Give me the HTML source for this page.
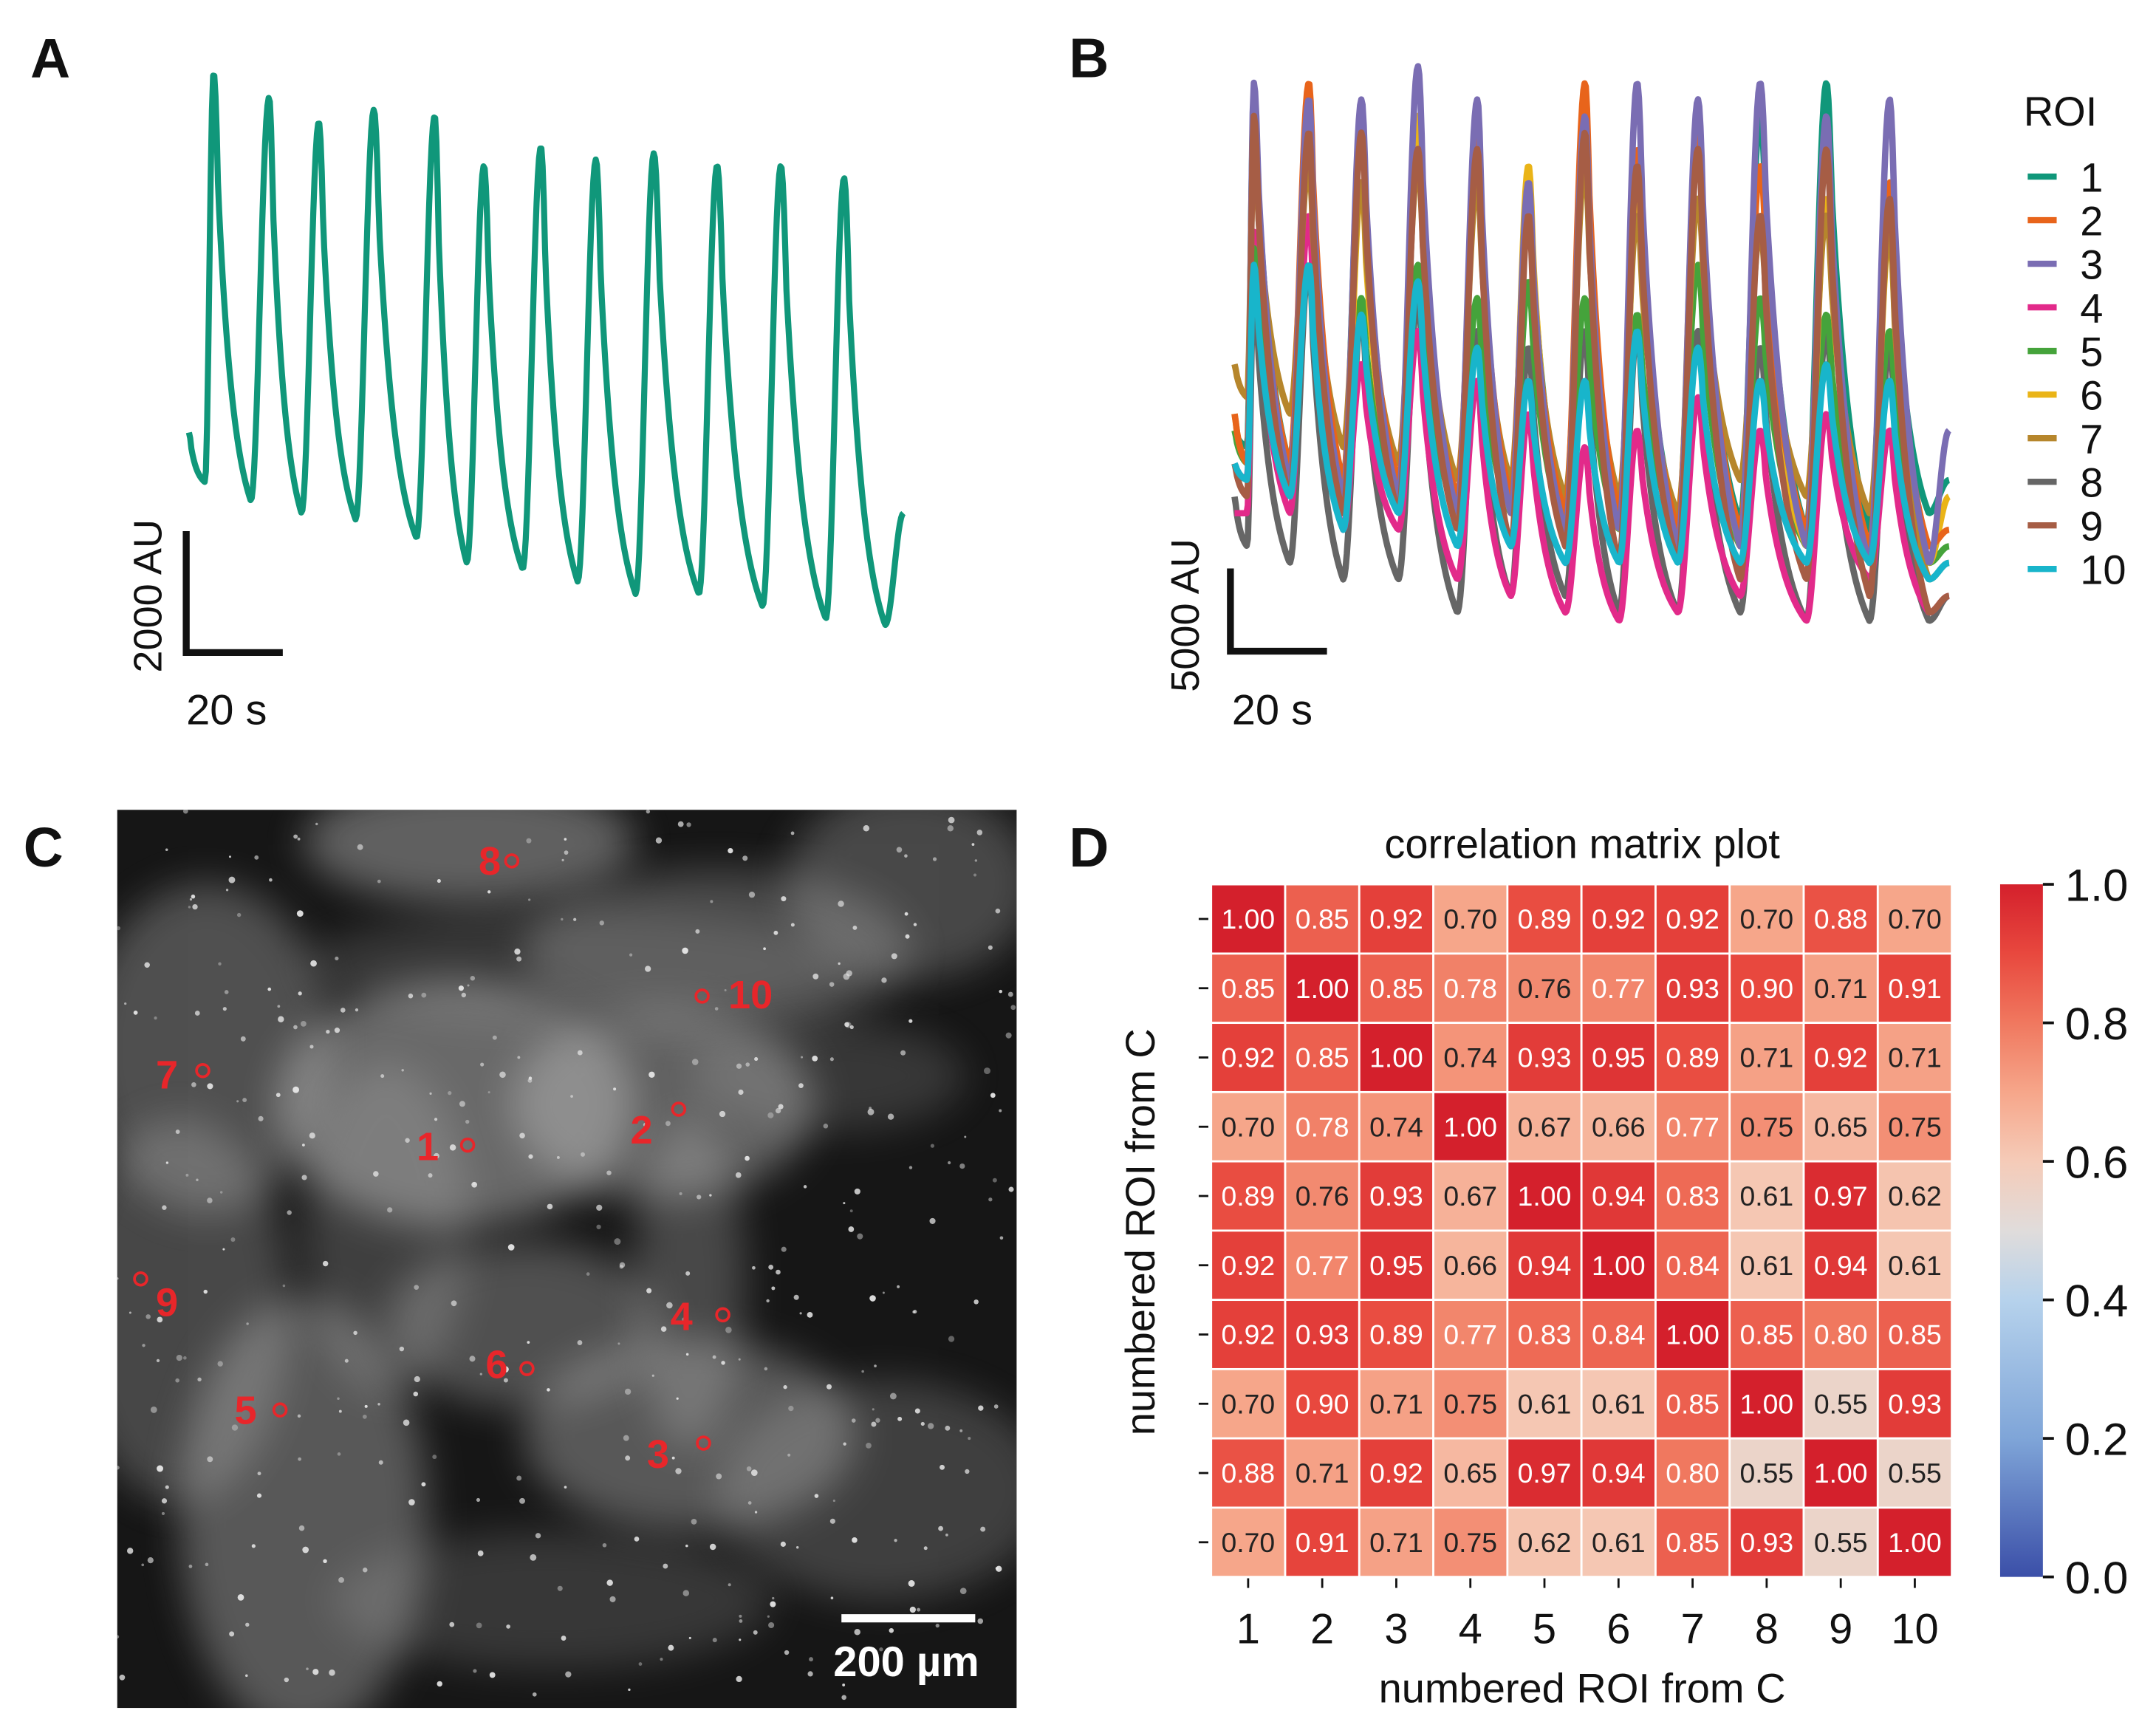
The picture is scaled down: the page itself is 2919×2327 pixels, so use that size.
<!DOCTYPE html>
<html><head><meta charset="utf-8"><style>
html,body{margin:0;padding:0;background:#fff}
svg{display:block}
text{font-family:"Liberation Sans",sans-serif}
</style></head><body>
<svg id="fig" width="2919" height="2327" viewBox="0 0 1563 1246" preserveAspectRatio="none" xmlns="http://www.w3.org/2000/svg">
<defs>
<filter id="blur8" x="-50%" y="-50%" width="200%" height="200%"><feGaussianBlur stdDeviation="14"/></filter>
<linearGradient id="cbar" x1="0" y1="1" x2="0" y2="0">
<stop offset="0" stop-color="#3b4fa8"/><stop offset="0.2" stop-color="#7fa5d8"/><stop offset="0.4" stop-color="#b6d2ec"/><stop offset="0.5" stop-color="#e0dcdb"/><stop offset="0.6" stop-color="#f5cbb8"/><stop offset="0.7" stop-color="#f6a68a"/><stop offset="0.8" stop-color="#f0785f"/><stop offset="0.9" stop-color="#e8483e"/><stop offset="1" stop-color="#d4202c"/>
</linearGradient>
</defs>
<g font-weight="bold" font-size="40" fill="#111">
<text x="22" y="56">A</text>
<text x="775" y="56">B</text>
<text x="17" y="628">C</text>
<text x="775" y="628">D</text>
</g>
<g id="panelA"></g>
<g id="scaleA">
<path d="M135 385 V473 H205" stroke="#111" stroke-width="5" fill="none"/>
<text transform="translate(117,432) rotate(-90)" text-anchor="middle" font-size="29" fill="#111">2000 AU</text>
<text x="135" y="525" font-size="31" fill="#111">20 s</text>
</g>
<g id="panelB"></g>
<g id="scaleB">
<path d="M892 412 V472 H962" stroke="#111" stroke-width="5" fill="none"/>
<text transform="translate(869,446) rotate(-90)" text-anchor="middle" font-size="29" fill="#111">5000 AU</text>
<text x="893" y="525" font-size="31" fill="#111">20 s</text>
</g>
<g id="legend">
<text x="1467" y="91" font-size="30" fill="#111">ROI</text>
</g>
<g id="panelC"></g>
<g id="panelD"></g>
</svg>
<script>
const NS='http://www.w3.org/2000/svg';
const colors=['#10977a','#e8641b','#7a6db3','#e22a8a','#45a33b','#eab417','#b6862c','#666666','#a65d45','#18b5cb'];
// Panel A data (time in s, values in thousand AU)
const peakTimesA=[5.1,16.6,26.9,38.3,50.9,61.1,72.9,84.3,96.3,109.4,122.6,135.7];
const peaksA=[9.5,9.1,8.7,8.9,8.8,8.0,8.3,8.1,8.2,8.0,8.0,7.8];
const troughsA=[2.9,2.6,2.4,2.3,2.0,1.6,1.5,1.3,1.1,1.1,0.9,0.7];
const startA=3.7, endTroughA=0.6, endA=2.4, tEndA=148;
// Panel B data
const peakTimesB=[4,15.4,26.3,38,50.3,60.9,72.6,83.4,96,108.9,122.6,135.7];
const peaksB=[
[34,33,33,31,31,29,31,30,31,33,35,28],
[33,35,32,31,32,28,35,31,32,30,31,29],
[35,34,34,36,34,29,33,35,34,35,33,34],
[26,27,18,20,17,15,13,14,16,14,15,14],
[25,24,22,24,22,23,22,21,24,22,21,20],
[33,32,29,33,32,30,32,28,33,27,28,26],
[31,30,29,30,29,27,30,27,28,26,27,26],
[23,24,21,22,20,19,20,20,20,19,20,19],
[33,32,32,31,31,27,32,30,31,27,31,28],
[24,24,21,23,19,17,17,20,19,17,18,17]];
const troughsB=[
[13,12,11,10,10,9.5,9,9,8.5,8.5,8,8],
[12,12,11,11,10,10,9,9,8,8,8,7],
[11,11,10,10,9,9,8,8,7,7,7,6],
[9,9,8,8,5,4,3,2.5,3,4,2.5,5],
[12,11,10,10,9,9,8,8,8,7,7,7],
[12,11,10,10,9,9,8,8,8,7,7,7],
[16,15,13,12,11,11,10,10,9,11,10,9],
[7,6,5,5,3,4,4,3,3,3,2.5,2.5],
[10,10,9,9,8,7,7,6,6,5,5,4],
[11,10,8,9,7,7,6,6,6,6,6,6]];
const startsB=[14,15,12,9,14,15,18,10,12,12];
const endTroughsB=[9,7,6,3,6,6,5,2.5,3,5];
const endsB=[11,8,14,4,7,10,6,4,4,6];
const tEndB=148;
const roiLabels=['1','2','3','4','5','6','7','8','9','10'];
// Correlation matrix
const corr=[
[1.00,0.85,0.92,0.70,0.89,0.92,0.92,0.70,0.88,0.70],
[0.85,1.00,0.85,0.78,0.76,0.77,0.93,0.90,0.71,0.91],
[0.92,0.85,1.00,0.74,0.93,0.95,0.89,0.71,0.92,0.71],
[0.70,0.78,0.74,1.00,0.67,0.66,0.77,0.75,0.65,0.75],
[0.89,0.76,0.93,0.67,1.00,0.94,0.83,0.61,0.97,0.62],
[0.92,0.77,0.95,0.66,0.94,1.00,0.84,0.61,0.94,0.61],
[0.92,0.93,0.89,0.77,0.83,0.84,1.00,0.85,0.80,0.85],
[0.70,0.90,0.71,0.75,0.61,0.61,0.85,1.00,0.55,0.93],
[0.88,0.71,0.92,0.65,0.97,0.94,0.80,0.55,1.00,0.55],
[0.70,0.91,0.71,0.75,0.62,0.61,0.85,0.93,0.55,1.00]];
const cbTicks=['0.0','0.2','0.4','0.6','0.8','1.0'];

function el(tag,attrs,parent){const e=document.createElementNS(NS,tag);for(const k in attrs)e.setAttribute(k,attrs[k]);parent.appendChild(e);return e;}

function traceValue(t,times,peaks,troughs,start,endTrough,end,tEnd,riseMax,k){
  const P=[[0,start]].concat(times.map((x,i)=>[x,peaks[i]]));
  const Tr=troughs.concat([endTrough]);
  const N=[...times.map((x,i)=>[x,peaks[i]]),[tEnd,end]];
  for(let i=0;i<N.length;i++){
    const t0=P[i][0],v0=P[i][1],t1=N[i][0],v1=N[i][1],tr=Tr[i];
    if(t<=t1||i===N.length-1){
      const gap=t1-t0, riseDur=Math.min(riseMax,gap*0.35);
      const tm=t1-riseDur;
      if(t<tm){
        let s=(t-t0)/(tm-t0);
        // rounded top: quadratic onset blended into exponential decay
        const f=(Math.exp(-k*s)-Math.exp(-k))/(1-Math.exp(-k));
        const g=1-s*s; const w=Math.min(1,s/0.12);
        const ff=(1-w)*Math.max(g,f)+w*f;
        return tr+(v0-tr)*ff;
      }
      const s=Math.min(1,(t-tm)/riseDur);return tr+(v1-tr)*(0.5-0.5*Math.cos(Math.PI*s));
    }
  }
  return end;
}
function buildPath(xs,ys,times,peaks,troughs,start,endTrough,end,tEnd,riseMax,k){
  let d='';for(let t=0;t<=tEnd;t+=0.25){const v=traceValue(t,times,peaks,troughs,start,endTrough,end,tEnd,riseMax,k);d+=(d?'L':'M')+xs(t).toFixed(2)+' '+ys(v).toFixed(2);}return d;
}
// Panel A
const xA=t=>137+t*3.5, yA=v=>480-v*45;
const pa=el('path',{d:buildPath(xA,yA,peakTimesA,peaksA,troughsA,startA,endTroughA,endA,tEndA,3.8,2.3),fill:'none',stroke:'#10977a','stroke-width':4.4,'stroke-linejoin':'round'},document.getElementById('panelA'));


// Panel B
const xB=t=>895+t*3.5, yB=v=>480-v*12;
const gB=document.getElementById('panelB');
[7,3,0,4,5,6,1,2,8,9].forEach(i=>{
  const p=el('path',{d:buildPath(xB,yB,peakTimesB,peaksB[i],troughsB[i],startsB[i],endTroughsB[i],endsB[i],tEndB,4.2,2.0),fill:'none',stroke:colors[i],'stroke-width':4.6,'stroke-linejoin':'round'},gB);
  
  
});
// Legend
const lg=document.getElementById('legend');
roiLabels.forEach((r,i)=>{
  const y=128+i*31.6;
  const l=el('line',{x1:1470,x2:1491,y1:y,y2:y,stroke:colors[i],'stroke-width':4.5},lg);
  
  
  const tx=el('text',{x:1508,y:y+11,'font-size':30,fill:'#111'},lg);tx.textContent=r;
  
  
});
// Panel C microscopy
const gC=document.getElementById('panelC');
el('rect',{x:85,y:587,width:652,height:651,fill:'#161616'},gC);
const cp=el('clipPath',{id:'cclip'},document.querySelector('defs'));el('rect',{x:85,y:587,width:652,height:651},cp);
const cl=el('g',{'clip-path':'url(#cclip)'},gC);
const blobs=[[340,610,120,45,0.45],[520,690,140,60,0.3],[330,800,130,90,0.5],[480,800,110,70,0.45],[150,760,90,120,0.35],[130,950,80,140,0.3],[220,1100,90,160,0.4],[380,960,100,60,0.35],[500,1040,120,70,0.4],[500,930,40,120,0.3],[660,640,90,70,0.3],[640,1080,120,80,0.25],[420,700,200,40,0.2],[280,890,60,120,0.25],[600,780,100,40,0.2],[400,1160,160,50,0.2]];
blobs.forEach(b=>el('ellipse',{cx:b[0],cy:b[1],rx:b[2],ry:b[3],fill:'#bbbbbb',opacity:b[4],filter:'url(#blur8)'},cl));
let seed=7;function rnd(){seed=(seed*16807)%2147483647;return seed/2147483647;}
for(let i=0;i<420;i++){const x=85+rnd()*652,y=587+rnd()*651;el('circle',{cx:x,cy:y,r:0.8+rnd()*1.6,fill:'#e8e8e8',opacity:0.35+rnd()*0.6},cl);}
const rois=[['8',347,634,371,624],['10',528,731,509,722],['7',113,789,147,776],['2',457,829,492,804],['1',302,841,339,830],['9',113,954,102,927],['4',486,964,524,953],['6',352,999,382,992],['5',170,1032,203,1022],['3',469,1064,510,1046]];
rois.forEach(r=>{
  const c=el('circle',{cx:r[3],cy:r[4],r:4.5,fill:'none',stroke:'#e8262a','stroke-width':2},gC);
  
  
  const t=el('text',{x:r[1],y:r[2],'font-size':29,'font-weight':'bold',fill:'#e8262a'},gC);t.textContent=r[0];
  
  
});
const sb=el('line',{x1:610,x2:707,y1:1173,y2:1173,stroke:'#fff','stroke-width':6},gC);


const sbt=el('text',{x:657,y:1215,'font-size':31,'font-weight':'bold',fill:'#fff','text-anchor':'middle'},gC);sbt.textContent='200 µm';


// Panel D heatmap
const gD=document.getElementById('panelD');
const stops=[[0,[59,79,168]],[0.2,[127,165,216]],[0.4,[182,210,236]],[0.5,[224,220,219]],[0.6,[245,203,184]],[0.7,[246,166,138]],[0.8,[240,120,95]],[0.9,[232,72,62]],[1,[212,32,44]]];
function cmap(v){for(let i=1;i<stops.length;i++){if(v<=stops[i][0]){const a=stops[i-1],b=stops[i],f=(v-a[0])/(b[0]-a[0]);return 'rgb('+a[1].map((c,k)=>Math.round(c+(b[1][k]-c)*f)).join(',')+')';}}return 'rgb(212,32,44)';}
const hx0=878,hy0=641,cw=53.7,ch=50.2;
const cx=j=>hx0+j*cw, cy=i=>hy0+i*ch;
const title=el('text',{x:1147,y:622,'font-size':30,'text-anchor':'middle',fill:'#111'},gD);title.textContent='correlation matrix plot';


corr.forEach((row,i)=>row.forEach((v,j)=>{
  const r=el('rect',{x:cx(j),y:cy(i),width:cw,height:ch,fill:cmap(v),stroke:'#fff','stroke-width':1.5},gD);
  
  
  const t=el('text',{x:cx(j)+cw/2,y:cy(i)+ch/2+7,'font-size':20,'text-anchor':'middle',fill:v>=0.77?'#fff':'#222','font-family':'DejaVu Sans, sans-serif'},gD);t.textContent=v.toFixed(2);
  
  
}));
roiLabels.forEach((r,k)=>{
  el('line',{x1:cx(k)+cw/2,x2:cx(k)+cw/2,y1:1144,y2:1151,stroke:'#111','stroke-width':1.5},gD);
  const t=el('text',{x:cx(k)+cw/2,y:1191,'font-size':31,'text-anchor':'middle',fill:'#111'},gD);t.textContent=r;
  
  
  el('line',{x1:869,x2:876,y1:cy(k)+ch/2,y2:cy(k)+ch/2,stroke:'#111','stroke-width':1.5},gD);
});
const xl=el('text',{x:1147,y:1234,'font-size':30,'text-anchor':'middle',fill:'#111'},gD);xl.textContent='numbered ROI from C';


const yl=el('text',{transform:'translate(837,893) rotate(-90)','font-size':30,'text-anchor':'middle',fill:'#111'},gD);yl.textContent='numbered ROI from C';


const cb=el('rect',{x:1450,y:641,width:31,height:502,fill:'url(#cbar)'},gD);


cbTicks.forEach(s=>{
  const v=parseFloat(s), y=1143-v*502;
  el('line',{x1:1481,x2:1489,y1:y,y2:y,stroke:'#111','stroke-width':2},gD);
  const t=el('text',{x:1497,y:y+12,'font-size':33,fill:'#111'},gD);t.textContent=s;
  
  
});
</script>
</body></html>
